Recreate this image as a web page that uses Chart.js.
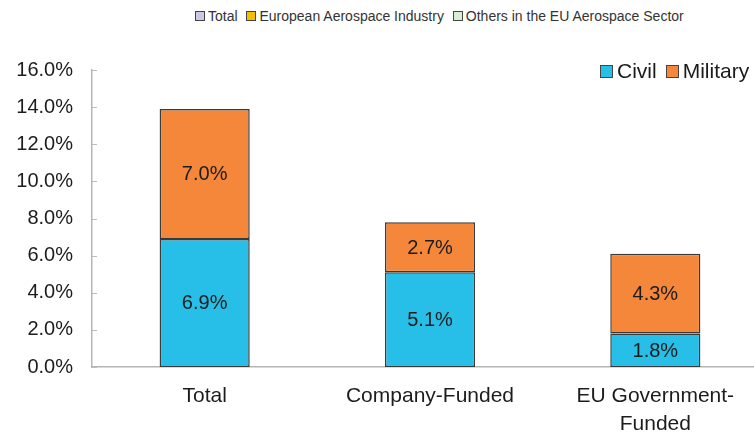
<!DOCTYPE html>
<html lang="en">
<head>
    <meta charset="UTF-8">
    <title>Aerospace R&amp;D Funding</title>
    <script src="https://cdn.jsdelivr.net/npm/chart.js"></script>
    <style>
        body {
            margin: 0;
            width: 754px;
            height: 434px;
            overflow: hidden;
            background: #ffffff;
            font-family: 'Liberation Sans', Arial, sans-serif;
            position: relative;
        }
        .wrap {
            position: absolute;
            left: 0;
            top: 0;
            width: 768px;
            height: 434px;
        }
        .top-legend {
            position: absolute;
            left: 195px;
            top: 8px;
            font-size: 14px;
            color: #333;
            white-space: nowrap;
        }
        .top-legend span.item {
            margin-right: 5px;
        }
        .sq {
            display: inline-block;
            width: 8px;
            height: 8px;
            border: 1.5px solid #444;
            margin-right: 3px;
            vertical-align: 0px;
        }
        .series-legend {
            position: absolute;
            left: 600px;
            top: 59px;
            font-size: 21px;
            color: #1a1a1a;
            white-space: nowrap;
        }
        .series-legend .sq {
            width: 11px;
            height: 11px;
            border: 1px solid #444;
            margin-right: 4px;
        }
        .series-legend .item {
            margin-right: 9px;
        }
    </style>
</head>
<body>
    <div class="top-legend">
        <span class="item"><span class="sq" style="background:#c9c9e3"></span>Total</span>
        <span class="item"><span class="sq" style="background:#f2c200"></span>European Aerospace Industry</span>
        <span class="item"><span class="sq" style="background:#d9edd2"></span>Others in the EU Aerospace Sector</span>
    </div>
    <div class="wrap"><canvas id="chart"></canvas></div>
    <div class="series-legend" id="seriesLegend"></div>

    <script>
        const categories = ['Total', 'Company-Funded', ['EU Government-', 'Funded']];
        const civil = [6.9, 5.1, 1.8];
        const military = [7.0, 2.7, 4.3];
        const yTicks = [0, 2, 4, 6, 8, 10, 12, 14, 16];

        const civilColor = '#27bfe8';
        const militaryColor = '#f4873a';

        // writes the value of each segment in the middle of it
        const segmentLabels = {
            id: 'segmentLabels',
            afterDatasetsDraw(chart) {
                const ctx = chart.ctx;
                ctx.save();
                ctx.font = '20px "Liberation Sans", Arial, sans-serif';
                ctx.fillStyle = '#1c1c1c';
                ctx.textAlign = 'center';
                ctx.textBaseline = 'middle';
                chart.data.datasets.forEach((ds, i) => {
                    chart.getDatasetMeta(i).data.forEach((bar, j) => {
                        ctx.fillText(ds.data[j].toFixed(1) + '%', bar.x, (bar.y + bar.base) / 2 + 1);
                    });
                });
                ctx.restore();
            }
        };

        // short tick marks pointing into the plot from the y axis
        const innerTicks = {
            id: 'innerTicks',
            afterDraw(chart) {
                const y = chart.scales.y;
                const ctx = chart.ctx;
                ctx.save();
                ctx.strokeStyle = '#bdbdbd';
                ctx.lineWidth = 1;
                yTicks.forEach(v => {
                    const py = Math.round(y.getPixelForValue(v)) + 0.5;
                    ctx.beginPath();
                    ctx.moveTo(chart.chartArea.left, py);
                    ctx.lineTo(chart.chartArea.left + 5, py);
                    ctx.stroke();
                });
                ctx.restore();
            }
        };

        const ctx = document.getElementById('chart').getContext('2d');
        const chart = new Chart(ctx, {
            type: 'bar',
            data: {
                labels: categories,
                datasets: [{
                    label: 'Civil',
                    data: civil,
                    backgroundColor: civilColor,
                    borderColor: '#3a3a3a',
                    borderWidth: 1.5,
                    borderSkipped: false
                }, {
                    label: 'Military',
                    data: military,
                    backgroundColor: militaryColor,
                    borderColor: '#3a3a3a',
                    borderWidth: 1.5,
                    borderSkipped: false
                }]
            },
            options: {
                responsive: true,
                maintainAspectRatio: false,
                animation: false,
                layout: { padding: { top: 70, right: 0, bottom: 0, left: 0 } },
                plugins: {
                    legend: { display: false },
                    tooltip: { enabled: false }
                },
                datasets: {
                    bar: { categoryPercentage: 1, barPercentage: 0.4 }
                },
                scales: {
                    x: {
                        stacked: true,
                        afterFit: s => { s.height = 67; },
                        grid: { display: false },
                        border: { color: '#b5b5b5', width: 1.5 },
                        ticks: {
                            color: '#1c1c1c',
                            padding: 8,
                            maxRotation: 0,
                            font: { family: '"Liberation Sans", Arial, sans-serif', size: 21, lineHeight: 1.3 }
                        }
                    },
                    y: {
                        stacked: true,
                        min: 0,
                        max: 16,
                        afterFit: s => { s.width = 92; },
                        afterBuildTicks: s => { s.ticks = yTicks.map(v => ({ value: v })); },
                        grid: { display: false },
                        border: { color: '#b5b5b5', width: 1.5 },
                        ticks: {
                            color: '#1c1c1c',
                            padding: 11,
                            font: { family: '"Liberation Sans", Arial, sans-serif', size: 20 },
                            callback: v => v.toFixed(1) + '%'
                        }
                    }
                }
            },
            plugins: [segmentLabels, innerTicks]
        });

        // series legend placed over the top right of the plot
        document.getElementById('seriesLegend').innerHTML = chart.data.datasets.map(ds =>
            '<span class="item"><span class="sq" style="background:' + ds.backgroundColor + '"></span>' + ds.label + '</span>'
        ).join('');
    </script>
</body>
</html>
